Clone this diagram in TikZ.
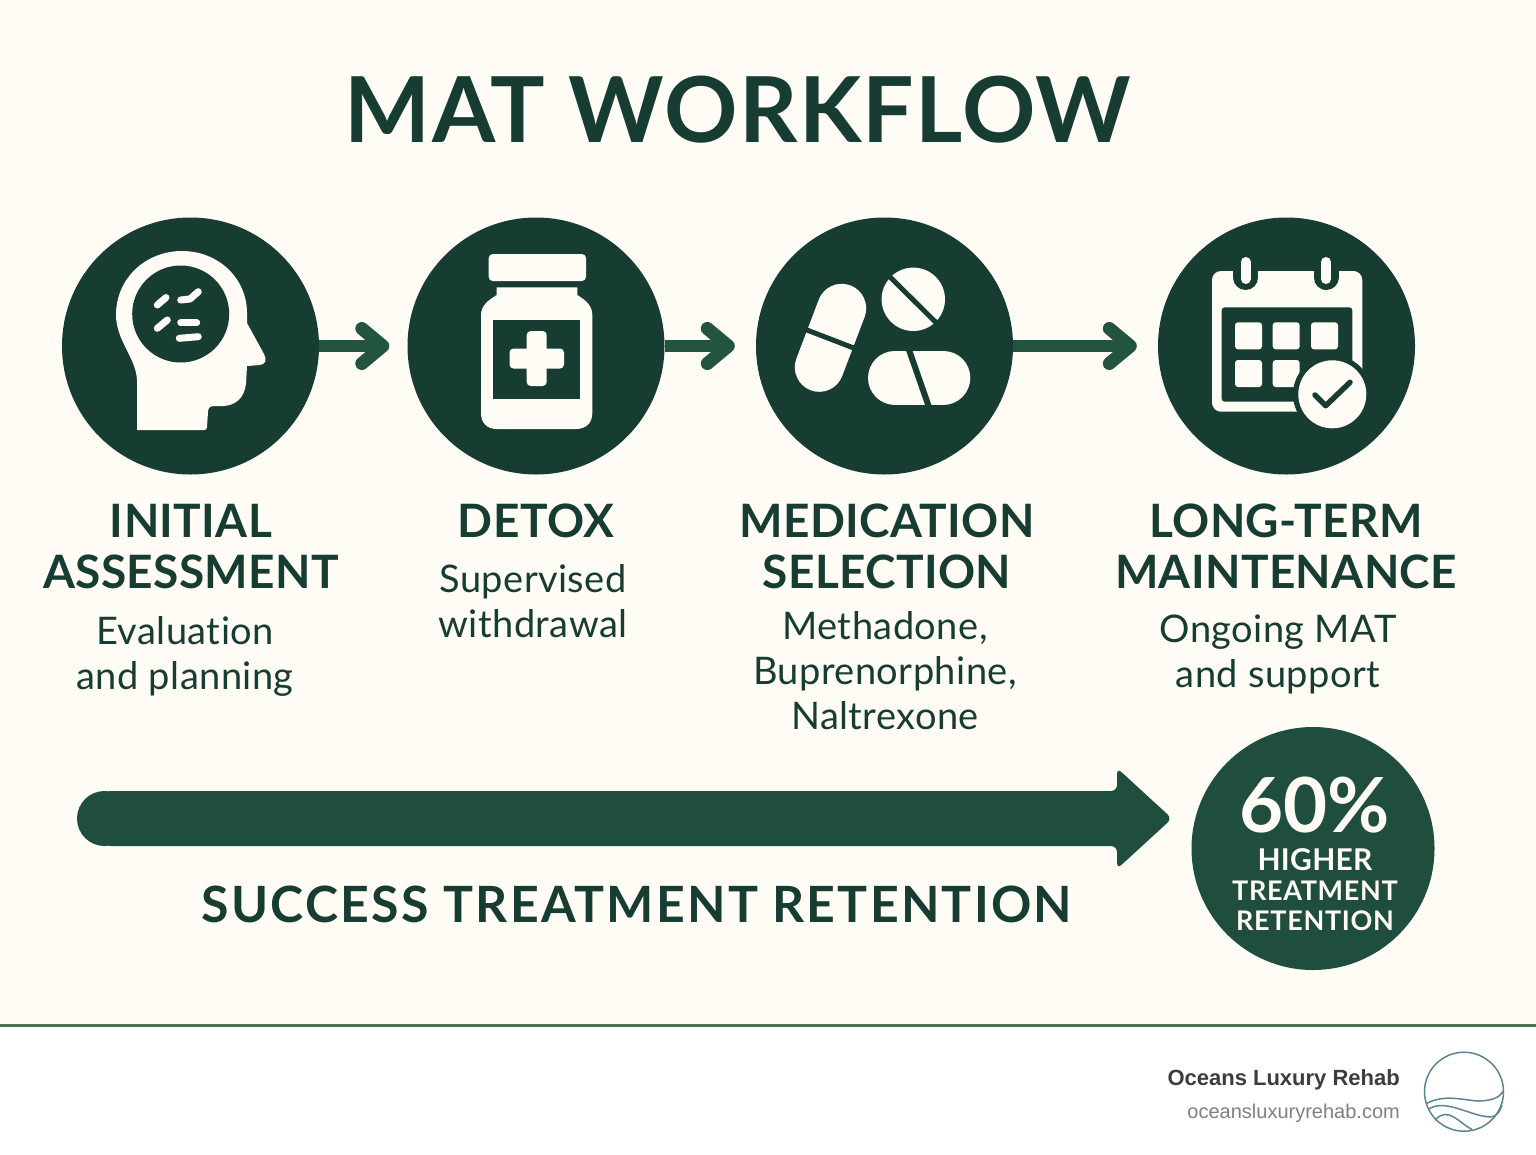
\documentclass[tikz,border=0pt]{standalone}
\usepackage{fontspec}
\usepackage{tikz}
\usetikzlibrary{arrows.meta}
\setmainfont{Lato}[Ligatures=NoCommon]
\newfontfamily\footfont{Liberation Sans}
\definecolor{paper}{HTML}{FFFCF5}
\definecolor{deepgreen}{HTML}{173D33}
\definecolor{midgreen}{HTML}{1F4D3E}
\definecolor{arrowgreen}{HTML}{22543F}
\definecolor{rulegreen}{HTML}{4A7350}
\definecolor{logoblue}{HTML}{5B8595}
\tikzset{
	stepcircle/.style={circle,fill=deepgreen,minimum size=257pt,inner sep=0pt},
	flowline/.style={draw=arrowgreen,line width=11.5pt,-{Straight Barb[length=21pt,width=35pt,line width=13pt,round]},shorten >=18pt},
	headtext/.style={text=deepgreen,align=center,font=\fontsize{46}{51}\selectfont\bfseries\addfontfeature{LetterSpace=0.8}},
	subtext/.style={text=deepgreen,align=center,font=\fontsize{38}{45}\selectfont\addfontfeature{LetterSpace=1.2}},
	badgetext/.style={text=paper,align=center,font=\fontsize{27}{27}\selectfont\bfseries\addfontfeature{LetterSpace=2.5}},
	iconfill/.style={fill=paper,draw=none},
	iconcut/.style={fill=deepgreen,draw=none},
	slit/.style={draw=deepgreen,line width=5pt},
	logoline/.style={draw=logoblue,line width=1.5pt}
}
\begin{document}
\begin{tikzpicture}[x=1pt,y=-1pt]
	\useasboundingbox (0,0) rectangle (1536,1154);
	\fill[paper] (0,0) rectangle (1536,1025);
	\fill[white] (0,1025) rectangle (1536,1154);
	\draw[rulegreen,line width=3pt] (0,1025) -- (1536,1025);
	
	\node[text=deepgreen,font=\fontsize{91}{91}\selectfont\bfseries\addfontfeature{LetterSpace=1.5}] (title) at (738,110) {MAT WORKFLOW};
	
	\node[stepcircle] (assess) at (190.5,346) {};
	\node[stepcircle] (detox) at (536,346) {};
	\node[stepcircle] (medsel) at (884.5,346) {};
	\node[stepcircle] (maint) at (1286.5,346) {};
	
	\draw[flowline] (assess) -- (detox);
	\draw[flowline,shorten >=21pt] (detox) -- (medsel);
	\draw[flowline,shorten >=21pt] (medsel) -- (maint);
	
	% head
	\fill[iconfill] (137,430) -- (137,380) .. controls (136,358) and (116,340) .. (116,315)
		.. controls (116,278) and (146,251) .. (182,251)
		.. controls (218,251) and (247,278) .. (247,313) -- (247,323)
		-- (264,354) .. controls (267,360) and (266,364) .. (260,365) -- (247,366) -- (246,384)
		.. controls (244,398) and (236,405) .. (224,406) -- (214,406)
		.. controls (210,406) and (208,408) .. (208,412) -- (207,427)
		.. controls (207,429) and (206,430) .. (204,430) -- cycle;
	\fill[iconcut] (180.7,314) circle (48.5);
	\begin{scope}[draw=paper,line width=7pt,line cap=round,line join=round]
		\draw (157.3,305) -- (166,297.5);
		\draw (180.7,300) -- (190,299) -- (198.3,291.7);
		\draw (157.3,328.3) -- (167.3,320);
		\draw (180.7,322.7) -- (196.7,322.7);
		\draw (179.3,338.3) -- (198.3,336.7);
	\end{scope}
	
	% bottle
	\fill[iconfill,rounded corners=4pt] (488.7,254) rectangle (586,281);
	\fill[iconfill] (496.7,287.3) -- (577.3,287.3) -- (577.3,295) .. controls (585,300) and (592.3,305) .. (592.3,315)
		-- (592.3,413) .. controls (592.3,423) and (586,429) .. (576,429) -- (497,429)
		.. controls (487,429) and (481,423) .. (481,413) -- (481,315)
		.. controls (481,305) and (489,300) .. (496.7,295) -- cycle;
	\fill[iconcut] (493.3,320) rectangle (580,398.7);
	\fill[iconfill,rounded corners=4pt] (509.5,348.5) rectangle (564,368.5);
	\fill[iconfill,rounded corners=4pt] (526.7,331) rectangle (546.7,386);
	
	% pills
	\draw[paper,line width=49pt,line cap=round] (841.7,308.3) -- (819.3,367.3);
	\draw[slit] (803,328.5) -- (855,348.5);
	\fill[iconfill] (913.3,299.3) circle (31.7);
	\draw[slit] (889,276) -- (938,324.5);
	\draw[paper,line width=54pt,line cap=round] (895,377.7) -- (943.3,377.7);
	\draw[slit,line width=6pt] (908,347) -- (930,410);
	
	% calendar
	\fill[iconfill,rounded corners=9pt] (1212,271) rectangle (1362.3,411.7);
	\fill[iconcut,rounded corners=3pt] (1221.7,307.3) rectangle (1352.3,401.7);
	\foreach \cx in {1245.7,1326} {
		\draw[deepgreen,line width=25pt,line cap=round] (\cx,265) -- (\cx,277.5);
		\draw[paper,line width=10pt,line cap=round] (\cx,262) -- (\cx,279);
	}
	\foreach \cx in {1235,1272.7,1311} {
		\fill[iconfill,rounded corners=3pt] (\cx,322.3) rectangle (\cx+27,349.3);
	}
	\foreach \cx in {1235,1272.7} {
		\fill[iconfill,rounded corners=3pt] (\cx,360) rectangle (\cx+27,387);
	}
	\fill[iconcut] (1332.3,394.3) circle (39.3);
	\fill[iconfill] (1332.3,394.3) circle (34);
	\draw[deepgreen,line width=5.5pt,line cap=round,line join=round] (1315,395) -- (1325.7,405.7) -- (1350,382.3);
	
	\node[headtext] (assesshead) at (191,546.5) {INITIAL\\ASSESSMENT};
	\node[headtext] (detoxhead) at (536,521) {DETOX};
	\node[headtext] (medhead) at (887,546) {MEDICATION\\SELECTION};
	\node[headtext] (mainthead) at (1286,546) {LONG-TERM\\MAINTENANCE};
	
	\node[subtext] (assesssub) at (185,656) {Evaluation\\and planning};
	\node[subtext] (detoxsub) at (533,601.5) {Supervised\\withdrawal};
	\node[subtext] (medsub) at (885,671) {Methadone,\\Buprenorphine,\\Naltrexone};
	\node[subtext] (maintsub) at (1278,654) {Ongoing MAT\\and support};
	
	% long arrow
	\coordinate (arrowtip) at (1172,818.5);
	\fill[midgreen,rounded corners=6pt] (1117,791) -- (1117,768) -- (arrowtip) -- (1117,869) -- (1117,846) -- (105,846) -- (105,791) -- cycle;
	\fill[midgreen] (104.5,818.5) circle (27.5);
	\node[text=deepgreen,font=\fontsize{50}{50}\selectfont\bfseries\addfontfeature{LetterSpace=4.5}] (retention) at (637,904) {SUCCESS TREATMENT RETENTION};
	
	\node[circle,fill=midgreen,minimum size=243pt,inner sep=0pt] (badge) at (1313,848.5) {};
	\node[text=paper,font=\fontsize{76}{76}\selectfont\bfseries] (percent) at (1315,805) {60\%};
	\node[badgetext,font=\fontsize{30}{30}\selectfont\bfseries\addfontfeature{LetterSpace=1}] (higher) at (1315,860) {HIGHER};
	\node[badgetext] (treat) at (1315,891) {TREATMENT};
	\node[badgetext] (retain) at (1315,921) {RETENTION};
	
	% footer
	\node[anchor=east,inner sep=0pt,text=black!76,font=\footfont\fontsize{22}{22}\selectfont\bfseries] (brand) at (1400,1080) {Oceans Luxury Rehab};
	\node[anchor=east,inner sep=0pt,text=black!50,font=\footfont\fontsize{20}{20}\selectfont] (site) at (1400,1113) {oceansluxuryrehab.com};
	\draw[logoline] (1464,1091.7) circle (39.5);
	\draw[logoline] (1426.7,1103.3) .. controls (1445,1094) and (1462,1100) .. (1478,1101) .. controls (1490,1101) and (1500,1098) .. (1503,1091);
	\draw[logoline] (1428.3,1109.3) .. controls (1445,1098) and (1470,1116) .. (1490,1117) .. controls (1496,1117) and (1500,1112) .. (1502,1105);
	\draw[logoline] (1435,1120) .. controls (1448,1106) and (1458,1122) .. (1472,1129.5);
	
\end{tikzpicture}
\end{document}
